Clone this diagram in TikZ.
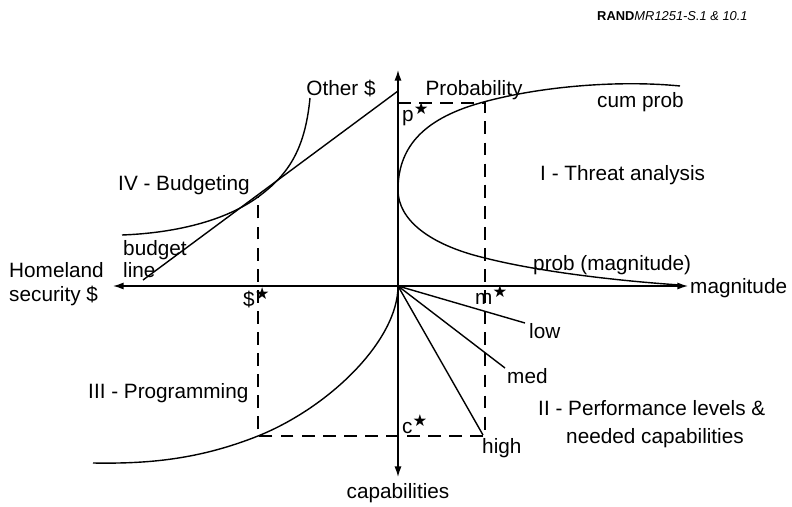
\documentclass[tikz,border=0pt]{standalone}
\usepackage{fontspec}
\setmainfont{Liberation Sans}
\newfontfamily\symf{DejaVu Sans}
\usetikzlibrary{arrows.meta}
\newcommand{\starsym}{\raisebox{0.55ex}{\fontsize{14}{14}\selectfont\symf ★}}
\begin{document}
\begin{tikzpicture}[x=0.03cm,y=-0.03cm,
  lbl/.style={font=\fontsize{17.7}{21}\selectfont, inner sep=0pt},
  small/.style={font=\fontsize{11}{13}\selectfont, inner sep=0pt},
  ln/.style={line width=1.2pt},
  dsh/.style={line width=1.1pt, dash pattern=on 11pt off 7pt},
  axis/.style={line width=1.2pt, -{Latex[length=9pt,width=6pt]}}]
\useasboundingbox (0,0) rectangle (792,506);
% axes
\coordinate (O) at (398,286);
\coordinate (xl) at (113,286);
\coordinate (xr) at (688,286);
\coordinate (yt) at (398,70);
\coordinate (yb) at (398,477);
\draw[axis] (O) -- (xl);
\draw[axis] (O) -- (xr);
\draw[axis] (O) -- (yt);
\draw[axis] (O) -- (yb);
% key points
\coordinate (V) at (398,190);
\coordinate (P) at (398,103);
\coordinate (Q) at (485,103);
\coordinate (R) at (485,436);
\coordinate (S) at (258,436);
\coordinate (T) at (258,197);
\coordinate (Bt) at (398,91);
\coordinate (Bb) at (143,280);
\coordinate (cumE) at (680,86);
\coordinate (probE) at (680,285);
\coordinate (progE) at (93,463);
\coordinate (indT) at (310,98);
\coordinate (indE) at (122,235);
\coordinate (lowE) at (525,323);
\coordinate (medE) at (505,368);
\coordinate (highE) at (483,435);
% quadrant I curves
\draw[ln] (V) .. controls (398,150) and (420,120) .. (480,103)
              .. controls (540,86) and (620,80) .. (cumE);
\draw[ln] (V) .. controls (398,220) and (430,245) .. (485,258)
              .. controls (540,272) and (620,281) .. (probE);
% dashed construction lines
\draw[dsh] (P) -- (Q) -- (R) -- (S) -- (T);
% quadrant II rays
\draw[ln] (O) -- (lowE);
\draw[ln] (O) -- (medE);
\draw[ln] (O) -- (highE);
% quadrant III curve
\draw[ln] (O) .. controls (398,340) and (330,407) .. (S)
              .. controls (200,459) and (150,464) .. (progE);
% quadrant IV
\draw[ln] (indT) .. controls (305,150) and (288,175) .. (T)
                 .. controls (225,221) and (175,233) .. (indE);
\draw[ln] (Bt) -- (Bb);
% labels
\node[small, anchor=base west] (rand) at (597,21) {{\bfseries RAND}\textit{MR1251-S.1 \& 10.1}};
\node[lbl, anchor=base] (other) at (341,95) {Other \$};
\node[lbl, anchor=base] (probability) at (474,95) {Probability};
\node[lbl, anchor=base west] (magn) at (690,293) {magnitude};
\node[lbl, anchor=base] (capab) at (398,498) {capabilities};
\node[lbl, anchor=base west] (home1) at (9,277) {Homeland};
\node[lbl, anchor=base west] (home2) at (9,301) {security \$};
\node[lbl, anchor=base west] (cum) at (597,107) {cum prob};
\node[lbl, anchor=base west] (threat) at (540,180) {I - Threat analysis};
\node[lbl, anchor=base west] (probm) at (533,270) {prob (magnitude)};
\node[lbl, anchor=base west] (budg) at (118,190) {IV - Budgeting};
\node[lbl, anchor=base west] (bl1) at (123,255) {budget};
\node[lbl, anchor=base west] (bl2) at (123,277) {line};
\node[lbl, anchor=base west] (prog) at (88,398) {III - Programming};
\node[lbl, anchor=base west] (perf1) at (538,415) {II - Performance levels \&};
\node[lbl, anchor=base west] (perf2) at (566,443) {needed capabilities};
\node[lbl, anchor=base west] (low) at (529,338) {low};
\node[lbl, anchor=base west] (med) at (507,383) {med};
\node[lbl, anchor=base west] (high) at (482,453) {high};
\node[lbl, anchor=base west] (pstar) at (402,121) {p\starsym};
\node[lbl, anchor=base west] (mstar) at (475,304) {m\starsym};
\node[lbl, anchor=base west] (dstar) at (243,306) {\$\starsym};
\node[lbl, anchor=base west] (cstar) at (402,433) {c\starsym};
\end{tikzpicture}
\end{document}
